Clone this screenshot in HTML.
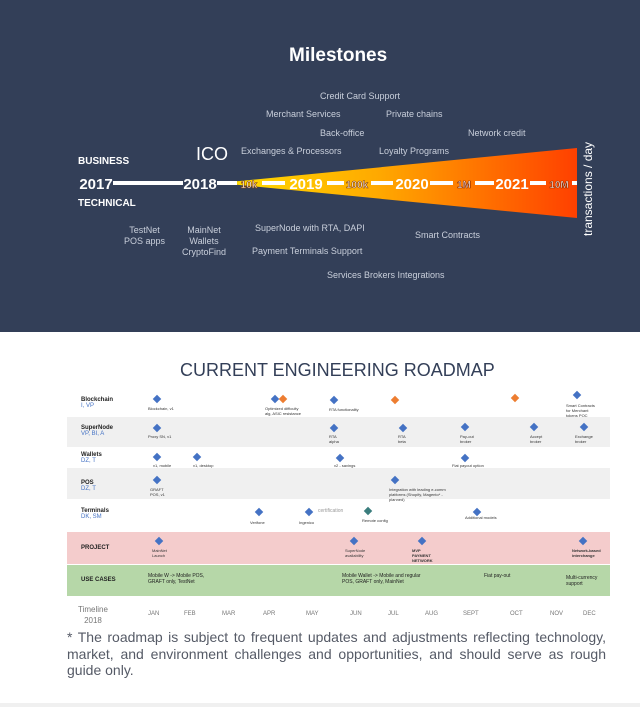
<!DOCTYPE html><html><head><meta charset="utf-8"><style>
*{margin:0;padding:0}body{width:640px;height:707px;position:relative;background:#fff;font-family:"Liberation Sans",sans-serif;overflow:hidden}
.a{position:absolute;white-space:nowrap}
.t{color:#c9cfdb;font-size:9px}
.s{font-size:4px;color:#333}
.d{position:absolute;width:6px;height:6px;background:#4472c4;transform:rotate(45deg)}
.o{background:#ed7d31}
.m{position:absolute;top:611px;font-size:6px;color:#777}
.j{display:block;text-align:justify;text-align-last:justify;white-space:nowrap}
</style></head><body>
<div class="a" style="left:0;top:0;width:640px;height:332px;background:#333f58"></div>
<div class="a" style="left:289px;top:45px;color:#fff;font-size:19px;font-weight:bold">Milestones</div>
<svg class="a" style="left:0;top:0" width="640" height="332">
<defs><linearGradient id="g" x1="0" x2="1"><stop offset="0" stop-color="#ffe000"/><stop offset="0.45" stop-color="#ffa800"/><stop offset="1" stop-color="#ff4000"/></linearGradient></defs>
<polygon points="219,183 577,148 577,218" fill="url(#g)"/>
<g fill="#fff">
<rect x="113" y="181" width="70" height="4"/><rect x="217" y="181" width="20" height="4"/><rect x="262" y="181" width="23" height="4"/><rect x="327" y="181" width="17" height="4"/><rect x="371" y="181" width="22" height="4"/><rect x="430" y="181" width="23" height="4"/><rect x="475" y="181" width="19" height="4"/><rect x="530" y="181" width="16" height="4"/><rect x="572" y="181" width="5" height="4"/>
</g>
<g font-family="Liberation Sans" font-weight="bold" text-anchor="middle">
<text x="96" y="189" font-size="15" fill="#fff">2017</text>
<text x="200" y="189" font-size="15" fill="#fff">2018</text>
<text x="306" y="189" font-size="15" fill="#fff">2019</text>
<text x="412" y="189" font-size="15" fill="#fff">2020</text>
<text x="512" y="189" font-size="15" fill="#fff">2021</text>
<text x="249" y="188" font-size="10" fill="#fff" stroke="#8a4000" stroke-width="0.6">10k</text>
<text x="357" y="188" font-size="10" fill="#fff" stroke="#8a4000" stroke-width="0.6">100k</text>
<text x="464" y="188" font-size="10" fill="#fff" stroke="#8a2a00" stroke-width="0.6">1M</text>
<text x="559" y="188" font-size="10" fill="#fff" stroke="#8a2a00" stroke-width="0.6">10M</text>
</g>
<text x="0" y="0" transform="translate(592,236) rotate(-90)" font-family="Liberation Sans" font-size="12" fill="#fff">transactions / day</text>
</svg>
<div class="a" style="left:78px;top:156px;color:#fff;font-size:10px;font-weight:bold">BUSINESS</div>
<div class="a" style="left:78px;top:198px;color:#fff;font-size:10px;font-weight:bold">TECHNICAL</div>
<div class="a" style="left:196px;top:144px;color:#fff;font-size:18px">ICO</div>
<div class="a t" style="left:320px;top:91px">Credit Card Support</div>
<div class="a t" style="left:266px;top:109px">Merchant Services</div>
<div class="a t" style="left:386px;top:109px">Private chains</div>
<div class="a t" style="left:320px;top:128px">Back-office</div>
<div class="a t" style="left:468px;top:128px">Network credit</div>
<div class="a t" style="left:241px;top:146px">Exchanges &amp; Processors</div>
<div class="a t" style="left:379px;top:146px">Loyalty Programs</div>
<div class="a t" style="left:124px;top:225px;text-align:center;line-height:11px">TestNet<br>POS apps</div>
<div class="a t" style="left:182px;top:225px;text-align:center;line-height:11px">MainNet<br>Wallets<br>CryptoFind</div>
<div class="a t" style="left:255px;top:223px">SuperNode with RTA, DAPI</div>
<div class="a t" style="left:252px;top:246px">Payment Terminals Support</div>
<div class="a t" style="left:415px;top:230px">Smart Contracts</div>
<div class="a t" style="left:327px;top:270px">Services Brokers Integrations</div>
<div class="a" style="left:180px;top:360px;color:#333f58;font-size:18px">CURRENT ENGINEERING ROADMAP</div>
<div class="a" style="left:67px;top:417px;width:543px;height:30px;background:#f0f0f0"></div>
<div class="a" style="left:67px;top:468px;width:543px;height:31px;background:#f0f0f0"></div>
<div class="a" style="left:67px;top:532px;width:543px;height:32px;background:#f4cccc"></div>
<div class="a" style="left:67px;top:565px;width:543px;height:31px;background:#b6d7a8"></div>
<div class="a" style="left:81px;top:397px;font-size:6px;font-weight:bold;color:#222">Blockchain<br><span style="color:#4472c4;font-weight:normal">I, VP</span></div>
<div class="a" style="left:81px;top:425px;font-size:6px;font-weight:bold;color:#222">SuperNode<br><span style="color:#4472c4;font-weight:normal">VP, BI, A</span></div>
<div class="a" style="left:81px;top:452px;font-size:6px;font-weight:bold;color:#222">Wallets<br><span style="color:#4472c4;font-weight:normal">DZ, T</span></div>
<div class="a" style="left:81px;top:480px;font-size:6px;font-weight:bold;color:#222">POS<br><span style="color:#4472c4;font-weight:normal">DZ, T</span></div>
<div class="a" style="left:81px;top:508px;font-size:6px;font-weight:bold;color:#222">Terminals<br><span style="color:#4472c4;font-weight:normal">DK, SM</span></div>
<div class="a" style="left:81px;top:545px;font-size:6px;font-weight:bold;color:#222">PROJECT</div>
<div class="a" style="left:81px;top:577px;font-size:6px;font-weight:bold;color:#222">USE CASES</div>
<div class="a" style="left:78px;top:604px;font-size:8px;color:#777;text-align:center;line-height:11px">Timeline<br>2018</div>
<div class="m" style="left:148px">JAN</div><div class="m" style="left:184px">FEB</div><div class="m" style="left:222px">MAR</div><div class="m" style="left:263px">APR</div><div class="m" style="left:306px">MAY</div><div class="m" style="left:350px">JUN</div><div class="m" style="left:388px">JUL</div><div class="m" style="left:425px">AUG</div><div class="m" style="left:463px">SEPT</div><div class="m" style="left:510px">OCT</div><div class="m" style="left:550px">NOV</div><div class="m" style="left:583px">DEC</div>
<div class="d" style="left:154px;top:396px"></div><div class="d" style="left:272px;top:396px"></div><div class="d o" style="left:280px;top:396px"></div><div class="d" style="left:331px;top:397px"></div><div class="d o" style="left:392px;top:397px"></div><div class="d o" style="left:512px;top:395px"></div><div class="d" style="left:574px;top:392px"></div>
<div class="d" style="left:154px;top:425px"></div><div class="d" style="left:331px;top:425px"></div><div class="d" style="left:400px;top:425px"></div><div class="d" style="left:462px;top:424px"></div><div class="d" style="left:531px;top:424px"></div><div class="d" style="left:581px;top:424px"></div>
<div class="d" style="left:154px;top:454px"></div><div class="d" style="left:194px;top:454px"></div><div class="d" style="left:337px;top:455px"></div><div class="d" style="left:462px;top:455px"></div>
<div class="d" style="left:154px;top:477px"></div><div class="d" style="left:392px;top:477px"></div>
<div class="d" style="left:256px;top:509px"></div><div class="d" style="left:306px;top:509px"></div><div class="d" style="left:365px;top:508px;background:#3a7d7d"></div><div class="d" style="left:474px;top:509px"></div>
<div class="d" style="left:156px;top:538px"></div><div class="d" style="left:351px;top:538px"></div><div class="d" style="left:419px;top:538px"></div><div class="d" style="left:580px;top:538px"></div>
<div class="a s" style="left:148px;top:406px">Blockchain, v1</div><div class="a s" style="left:265px;top:406px">Optimized difficulty<br>alg, ASIC resistance</div><div class="a s" style="left:329px;top:407px">RTA functionality</div><div class="a s" style="left:566px;top:403px">Smart Contracts<br>for Merchant<br>tokens POC</div>
<div class="a s" style="left:148px;top:434px">Proxy SN, v1</div><div class="a s" style="left:329px;top:434px">RTA<br>alpha</div><div class="a s" style="left:398px;top:434px">RTA<br>beta</div><div class="a s" style="left:460px;top:434px">Pay-out<br>broker</div><div class="a s" style="left:530px;top:434px">Accept<br>broker</div><div class="a s" style="left:575px;top:434px">Exchange<br>broker</div>
<div class="a s" style="left:153px;top:463px">v1, mobile</div><div class="a s" style="left:193px;top:463px">v1, desktop</div><div class="a s" style="left:334px;top:463px">v2 - savings</div><div class="a s" style="left:452px;top:463px">Fiat payout option</div>
<div class="a s" style="left:150px;top:487px">GRAFT<br>POS, v1</div><div class="a s" style="left:389px;top:487px">Integration with leading e-comm<br>platforms (Shopify, Magento* -<br>planned)</div>
<div class="a s" style="left:250px;top:520px">Verifone</div><div class="a s" style="left:299px;top:520px">Ingenico</div><div class="a" style="left:318px;top:508px;font-size:5px;color:#999">certification</div><div class="a s" style="left:362px;top:518px">Remote config</div><div class="a s" style="left:465px;top:515px">Additional models</div>
<div class="a s" style="left:152px;top:548px">MainNet<br>Launch</div><div class="a s" style="left:345px;top:548px">SuperNode<br>availability</div><div class="a s" style="left:412px;top:548px;font-weight:bold">MVP<br>PAYMENT<br>NETWORK</div><div class="a s" style="left:572px;top:548px;font-weight:bold">Network-based<br>interchange</div>
<div class="a" style="left:148px;top:573px;font-size:5px;color:#222">Mobile W -&gt; Mobile POS,<br>GRAFT only, TestNet</div><div class="a" style="left:342px;top:573px;font-size:5px;color:#222">Mobile Wallet -&gt; Mobile and regular<br>POS, GRAFT only, MainNet</div><div class="a" style="left:484px;top:573px;font-size:5px;color:#222">Fiat pay-out</div><div class="a" style="left:566px;top:575px;font-size:5px;color:#222">Multi-currency<br>support</div>
<div class="a" style="left:67px;top:629px;width:539px;font-size:14px;line-height:16.5px;color:#555a66"><span class="j">* The roadmap is subject to frequent updates and adjustments reflecting technology,</span><span class="j">market, and environment challenges and opportunities, and should serve as rough</span><span style="display:block">guide only.</span></div>
<div class="a" style="left:0;top:703px;width:640px;height:4px;background:#f0f0f0"></div>
</body></html>
